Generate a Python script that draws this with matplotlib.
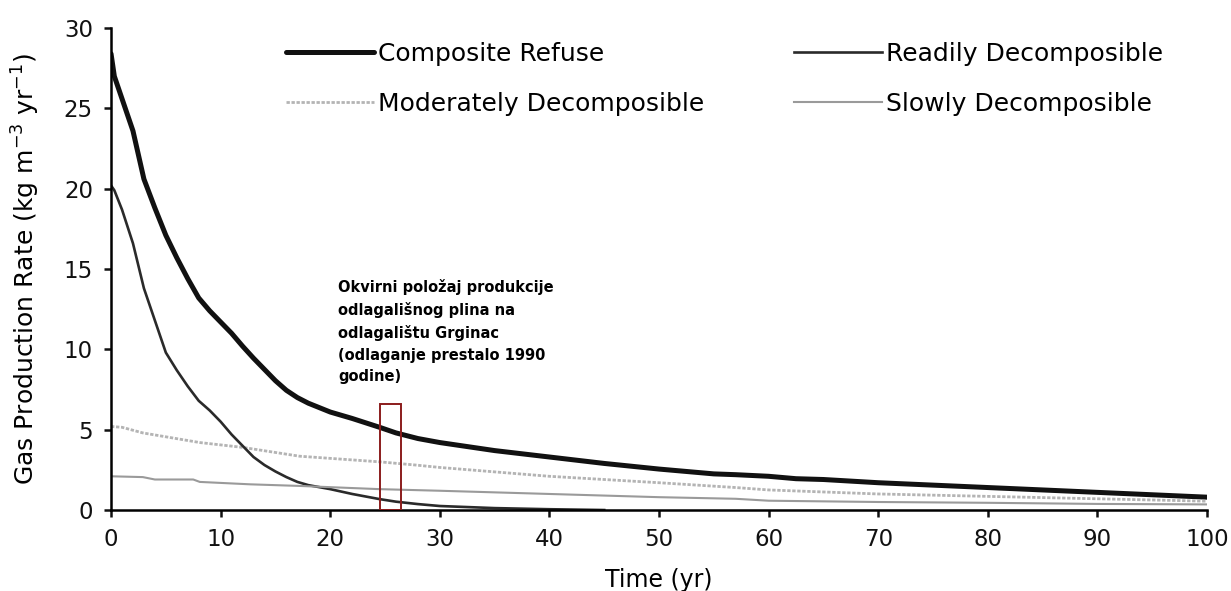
import matplotlib
matplotlib.use('Agg')
import matplotlib.pyplot as plt
from matplotlib.patches import Rectangle

# composite refuse
t_comp = [0, 0.3, 1, 2, 3, 4, 5, 6, 7, 8, 9, 10, 11, 12, 13, 14, 15, 16, 17, 18, 20, 22,
          24.5, 26, 28, 30, 35, 40, 45, 50, 55, 57, 60, 62.5, 65, 70, 75, 80, 85, 90, 95, 100]
comp = [28.4, 27.0, 25.6, 23.6, 20.6, 18.8, 17.1, 15.7, 14.4, 13.2, 12.4, 11.7, 11.0, 10.2,
        9.45, 8.75, 8.05, 7.45, 7.0, 6.65, 6.1, 5.7, 5.15, 4.8, 4.45, 4.2, 3.7, 3.3, 2.9, 2.55,
        2.25, 2.2, 2.1, 1.95, 1.9, 1.7, 1.55, 1.4, 1.25, 1.1, 0.95, 0.8]

# readily decomposible
t_read = [0, 0.3, 1, 2, 3, 4, 5, 6, 7, 8, 9, 10, 11, 12, 13, 14, 15, 16, 17, 18, 20, 22,
          24.5, 26, 28, 30, 35, 40, 45]
read = [20.2, 19.9, 18.7, 16.6, 13.8, 11.8, 9.8, 8.7, 7.7, 6.8, 6.2, 5.5, 4.7, 4.0, 3.3, 2.8,
        2.4, 2.05, 1.75, 1.55, 1.3, 1.0, 0.68, 0.52, 0.37, 0.25, 0.12, 0.05, 0.0]

# moderately decomposible
t_mod = [0, 1, 2.9, 8.1, 12, 17.2, 24.5, 27.8, 30, 40, 50, 57, 60, 70, 80, 90, 100]
mod = [5.2, 5.15, 4.8, 4.2, 3.9, 3.35, 3.0, 2.8, 2.65, 2.1, 1.7, 1.4, 1.25, 1.0, 0.85, 0.7, 0.55]

# slowly decomposible
t_slow = [0, 2.9, 4, 7.5, 8.1, 12.7, 17.2, 24.5, 30, 40, 50, 57, 60, 70, 80, 90, 100]
slow = [2.1, 2.05, 1.9, 1.9, 1.75, 1.6, 1.5, 1.3, 1.2, 1.0, 0.8, 0.7, 0.58, 0.5, 0.45, 0.38, 0.35]

# grginac box
box_x = [24.5, 26.5]
box_top = 6.6
note = ("Okvirni položaj produkcije\nodlagališnog plina na\nodlagalištu Grginac\n"
        "(odlaganje prestalo 1990\ngodine)")

fig = plt.figure(figsize=(12.31, 5.91), dpi=100)
ax = fig.add_axes([0.0902, 0.137, 0.8903, 0.8156])

ax.plot(t_comp, comp, color='#111111', lw=3.6, label='Composite Refuse',
        solid_capstyle='round', solid_joinstyle='round')
ax.plot(t_mod, mod, color='#b4b4b4', lw=2.0, ls=(0, (1.2, 0.6)), label='Moderately Decomposible')
ax.plot(t_read, read, color='#2a2a2a', lw=1.9, label='Readily Decomposible',
        solid_joinstyle='round')
ax.plot(t_slow, slow, color='#9a9a9a', lw=1.5, label='Slowly Decomposible')

ax.add_patch(Rectangle((box_x[0], 0), box_x[1] - box_x[0], box_top,
                       fill=False, edgecolor='#8b1c1c', lw=1.4, zorder=5))
ax.text(20.7, 14.4, note, fontsize=10.5, fontweight='bold', va='top', ha='left',
        linespacing=1.55)

ax.set_xlim(0, 100)
ax.set_ylim(0, 30)
ax.set_xticks(range(0, 101, 10))
ax.set_yticks(range(0, 31, 5))
for s in ['top', 'right']:
    ax.spines[s].set_visible(False)
for s in ['left', 'bottom']:
    ax.spines[s].set_linewidth(1.8)
ax.tick_params(direction='out', length=5, width=1.8, labelsize=16.5, pad=8, colors='#111111')

ax.set_xlabel('Time (yr)', fontsize=17, labelpad=12)
ax.set_ylabel('Gas Production Rate (kg m$^{-3}$ yr$^{-1}$)', fontsize=18, labelpad=16)

ax.legend(ncol=2, loc='upper left', bbox_to_anchor=(0.16, 0.972), frameon=False,
          fontsize=18, handlelength=3.52, handletextpad=0.15, columnspacing=3.6,
          labelspacing=1.05, borderpad=0, borderaxespad=0)

fig.savefig('out.png', dpi=100)
